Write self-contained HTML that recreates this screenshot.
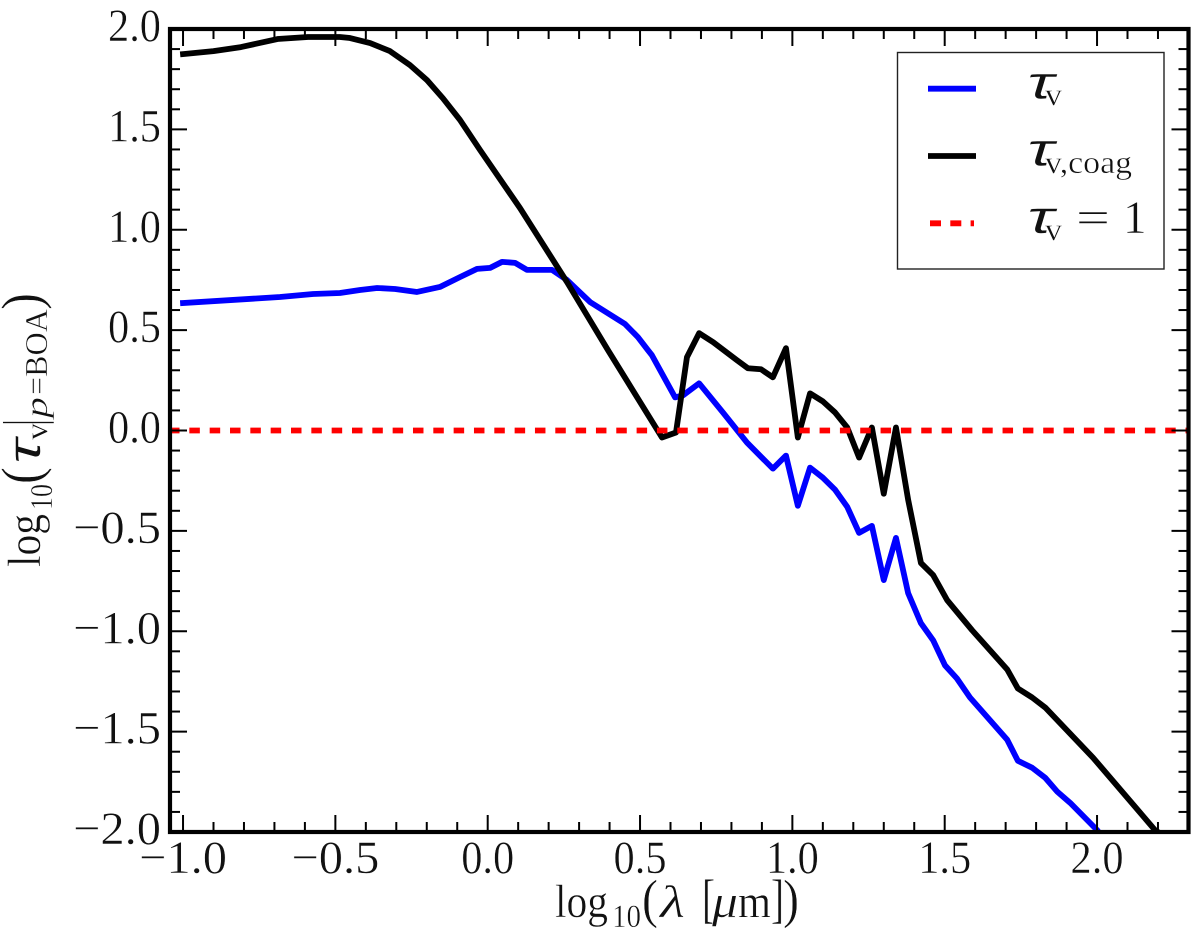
<!DOCTYPE html>
<html lang="en">
<head>
<meta charset="utf-8">
<title>Optical depth chart</title>
<style>
html,body{margin:0;padding:0;background:#fff;width:1200px;height:938px;overflow:hidden}
svg{display:block}
text{font-family:"Liberation Serif","DejaVu Serif",serif;fill:#111;stroke:#fff;stroke-width:.45}
text.greek{font-family:"Liberation Sans","DejaVu Sans",sans-serif;font-style:italic}
</style>
</head>
<body>
<svg id="chart" xmlns="http://www.w3.org/2000/svg" width="1200" height="938" viewBox="0 0 1200 938">
  <defs><clipPath id="plot-clip"><rect x="170" y="29" width="1018.5" height="803"/></clipPath></defs>
  <g id="series" clip-path="url(#plot-clip)"></g>
  <g id="ticks"></g>
  <rect x="170" y="29" width="1018.5" height="803" fill="none" stroke="#000" stroke-width="4.2"/>
  <g id="tick-labels"></g>

  <g>
    <text x="555" y="917" font-size="47" textLength="53" lengthAdjust="spacingAndGlyphs">log</text>
    <text x="612" y="927" font-size="33" textLength="29" lengthAdjust="spacingAndGlyphs">10</text>
    <text x="642" y="917" font-size="54" textLength="16" lengthAdjust="spacingAndGlyphs">(</text>
    <text x="660" y="917" font-size="46" font-style="italic" textLength="25" lengthAdjust="spacingAndGlyphs">λ</text>
    <text x="702" y="917" font-size="54" textLength="13" lengthAdjust="spacingAndGlyphs">[</text>
    <text x="712" y="917" font-size="46" font-style="italic" textLength="26" lengthAdjust="spacingAndGlyphs">μ</text>
    <text x="738" y="917" font-size="47" textLength="33" lengthAdjust="spacingAndGlyphs">m</text>
    <text x="771" y="917" font-size="54" textLength="13" lengthAdjust="spacingAndGlyphs">]</text>
    <text x="783" y="917" font-size="54" textLength="16" lengthAdjust="spacingAndGlyphs">)</text>
  </g>

  <g transform="translate(40,567) rotate(-90)">
    <text x="0" y="0" font-size="47" textLength="53" lengthAdjust="spacingAndGlyphs">log</text>
    <text x="57" y="12" font-size="32" textLength="26" lengthAdjust="spacingAndGlyphs">10</text>
    <text x="83" y="0" font-size="56" textLength="17" lengthAdjust="spacingAndGlyphs">(</text>
    <text class="greek" x="103" y="0" font-size="46" textLength="25" lengthAdjust="spacingAndGlyphs">τ</text>
    <text x="127" y="7" font-size="32" textLength="17" lengthAdjust="spacingAndGlyphs">v</text>
    <text x="141" y="2" font-size="56" textLength="7" lengthAdjust="spacingAndGlyphs">|</text>
    <text x="149" y="7" font-size="32" font-style="italic" textLength="21" lengthAdjust="spacingAndGlyphs">p</text>
    <text x="172" y="7" font-size="32" textLength="18" lengthAdjust="spacingAndGlyphs">=</text>
    <text x="190" y="7" font-size="32" textLength="68" lengthAdjust="spacingAndGlyphs">BOA</text>
    <text x="257" y="0" font-size="56" textLength="17" lengthAdjust="spacingAndGlyphs">)</text>
  </g>

  <g>
    <rect x="897.5" y="52.5" width="266.5" height="216.5" fill="#fff" stroke="#222" stroke-width="1.4"/>
    <g>
      <line x1="928" x2="976" y1="88.7" y2="88.7" stroke="#0000ff" stroke-width="5.8"/>
      <text class="greek" x="1027" y="98.3" font-size="46" textLength="27" lengthAdjust="spacingAndGlyphs">τ</text>
      <text x="1045" y="105" font-size="32" textLength="17" lengthAdjust="spacingAndGlyphs">v</text>
    </g>
    <g>
      <line x1="928" x2="976" y1="156" y2="156" stroke="#000" stroke-width="5.8"/>
      <text class="greek" x="1027" y="165.7" font-size="46" textLength="27" lengthAdjust="spacingAndGlyphs">τ</text>
      <text x="1045" y="173" font-size="32" textLength="87" lengthAdjust="spacingAndGlyphs">v,coag</text>
    </g>
    <g>
      <line x1="930" x2="974" y1="223.3" y2="223.3" stroke="#ff0000" stroke-width="5.8" stroke-dasharray="11 9.3"/>
      <text class="greek" x="1027" y="233" font-size="46" textLength="27" lengthAdjust="spacingAndGlyphs">τ</text>
      <text x="1045" y="240" font-size="32" textLength="17" lengthAdjust="spacingAndGlyphs">v</text>
      <text x="1076" y="233" font-size="46" textLength="34" lengthAdjust="spacingAndGlyphs">=</text>
      <text x="1123" y="233" font-size="47" textLength="23">1</text>
    </g>
  </g>
</svg>
<script>
// Tick values and labels
var xTickValues = [-1.0, -0.5, 0.0, 0.5, 1.0, 1.5, 2.0];
var xTickLabels = ['\u22121.0', '\u22120.5', '0.0', '0.5', '1.0', '1.5', '2.0'];
var yTickValues = [-2.0, -1.5, -1.0, -0.5, 0.0, 0.5, 1.0, 1.5, 2.0];
var yTickLabels = ['\u22122.0', '\u22121.5', '\u22121.0', '\u22120.5', '0.0', '0.5', '1.0', '1.5', '2.0'];

// Series: log10(lambda) and log10(tau)
var tauVLambda = [-1.00, -0.682, -0.573, -0.485, -0.419, -0.363, -0.304, -0.232, -0.157, -0.09, -0.035, 0.008, 0.047, 0.09, 0.129, 0.211, 0.26, 0.336, 0.451, 0.493, 0.526, 0.539, 0.615, 0.641, 0.694, 0.772, 0.851, 0.936, 0.979, 1.018, 1.058, 1.10, 1.14, 1.18, 1.219, 1.261, 1.30, 1.34, 1.38, 1.422, 1.462, 1.501, 1.54, 1.583, 1.705, 1.74, 1.787, 1.83, 1.87, 1.912, 2.0, 2.01];
var tauV = [0.635, 0.665, 0.68, 0.685, 0.70, 0.71, 0.705, 0.69, 0.715, 0.765, 0.805, 0.81, 0.84, 0.835, 0.80, 0.80, 0.75, 0.64, 0.53, 0.465, 0.40, 0.375, 0.165, 0.175, 0.235, 0.09, -0.06, -0.19, -0.125, -0.375, -0.185, -0.235, -0.295, -0.38, -0.51, -0.475, -0.745, -0.535, -0.81, -0.96, -1.045, -1.17, -1.235, -1.33, -1.54, -1.645, -1.68, -1.73, -1.80, -1.855, -1.99, -2.01];

var tauCoagLambda = [-1.00, -0.90, -0.81, -0.69, -0.59, -0.485, -0.452, -0.386, -0.321, -0.255, -0.199, -0.147, -0.091, -0.025, 0.106, 0.26, 0.395, 0.572, 0.618, 0.654, 0.694, 0.74, 0.818, 0.854, 0.897, 0.936, 0.979, 1.018, 1.058, 1.10, 1.14, 1.18, 1.219, 1.261, 1.30, 1.34, 1.38, 1.422, 1.462, 1.508, 1.59, 1.705, 1.74, 1.787, 1.83, 1.987, 2.19, 2.21];
var tauCoag = [1.875, 1.89, 1.91, 1.95, 1.96, 1.96, 1.955, 1.93, 1.89, 1.82, 1.745, 1.655, 1.547, 1.397, 1.108, 0.74, 0.40, -0.035, -0.01, 0.365, 0.485, 0.44, 0.35, 0.31, 0.305, 0.265, 0.41, -0.035, 0.185, 0.145, 0.09, 0.015, -0.135, 0.015, -0.315, 0.015, -0.345, -0.66, -0.72, -0.845, -0.995, -1.19, -1.285, -1.33, -1.38, -1.63, -1.99, -2.01];

var tauOneLambda = [-1.046, 2.30];
var tauOne = [0, 0];

// Axis functions
function xScale(v) { return 487.7 + v * 304.67; }
function yScale(v) { return 430.5 - v * 200.75; }

var NS = 'http://www.w3.org/2000/svg';
var seriesG = document.getElementById('series');
var ticksG = document.getElementById('ticks');
var labelsG = document.getElementById('tick-labels');

function pathFrom(xs, ys) {
  var d = '';
  for (var i = 0; i < xs.length; i++) {
    d += (i ? 'L' : 'M') + xScale(xs[i]).toFixed(2) + ' ' + yScale(ys[i]).toFixed(2);
  }
  return d;
}

var blueLine = document.createElementNS(NS, 'path');


blueLine.setAttribute('d', pathFrom(tauVLambda, tauV));
blueLine.setAttribute('fill', 'none');
blueLine.setAttribute('stroke', '#0000ff');
blueLine.setAttribute('stroke-width', '5.8');
blueLine.setAttribute('stroke-linejoin', 'round');
blueLine.setAttribute('stroke-linecap', 'square');
seriesG.appendChild(blueLine);

var blackLine = document.createElementNS(NS, 'path');


blackLine.setAttribute('d', pathFrom(tauCoagLambda, tauCoag));
blackLine.setAttribute('fill', 'none');
blackLine.setAttribute('stroke', '#000');
blackLine.setAttribute('stroke-width', '5.8');
blackLine.setAttribute('stroke-linejoin', 'round');
blackLine.setAttribute('stroke-linecap', 'square');
seriesG.appendChild(blackLine);

var redLine = document.createElementNS(NS, 'path');


redLine.setAttribute('d', pathFrom(tauOneLambda, tauOne));
redLine.setAttribute('fill', 'none');
redLine.setAttribute('stroke', '#ff0000');
redLine.setAttribute('stroke-width', '5.8');
redLine.setAttribute('stroke-dasharray', '10.5 9.83');
seriesG.appendChild(redLine);

function addTick(x1, y1, x2, y2, w) {
  var t = document.createElementNS(NS, 'line');
  
  
  t.setAttribute('x1', x1);
  t.setAttribute('y1', y1);
  t.setAttribute('x2', x2);
  t.setAttribute('y2', y2);
  t.setAttribute('stroke', '#000');
  t.setAttribute('stroke-width', w);
  ticksG.appendChild(t);
}

// Minor and major ticks on all four sides
for (var i = -10; i <= 22; i++) {
  var xp = xScale(i / 10);
  var xLen = (i % 5 === 0) ? 17 : 10;
  addTick(xp, 832, xp, 832 - xLen, 2);
  addTick(xp, 29, xp, 29 + xLen, 2);
}
for (var j = -20; j <= 20; j++) {
  var yp = yScale(j / 10);
  var yLen = (j % 5 === 0) ? 17 : 10;
  addTick(170, yp, 170 + yLen, yp, 2);
  addTick(1188.5, yp, 1188.5 - yLen, yp, 2);
}

function labelWidth(s) {
  return (s.charAt(0) === '\u2212' ? 35 : 0) + 53;
}

xTickValues.forEach(function (v, k) {
  var s = xTickLabels[k];
  var w = labelWidth(s);
  var t = document.createElementNS(NS, 'text');
  
  
  t.setAttribute('x', xScale(v) - w / 2);
  t.setAttribute('y', 873);
  t.setAttribute('font-size', '47');
  t.setAttribute('textLength', w);
  t.setAttribute('lengthAdjust', 'spacingAndGlyphs');
  t.textContent = s;
  labelsG.appendChild(t);
});

yTickValues.forEach(function (v, k) {
  var s = yTickLabels[k];
  var w = labelWidth(s);
  var t = document.createElementNS(NS, 'text');
  
  
  t.setAttribute('x', 161 - w);
  t.setAttribute('y', yScale(v) + 12);
  t.setAttribute('font-size', '47');
  t.setAttribute('textLength', w);
  t.setAttribute('lengthAdjust', 'spacingAndGlyphs');
  t.textContent = s;
  labelsG.appendChild(t);
});
</script>
</body>
</html>
